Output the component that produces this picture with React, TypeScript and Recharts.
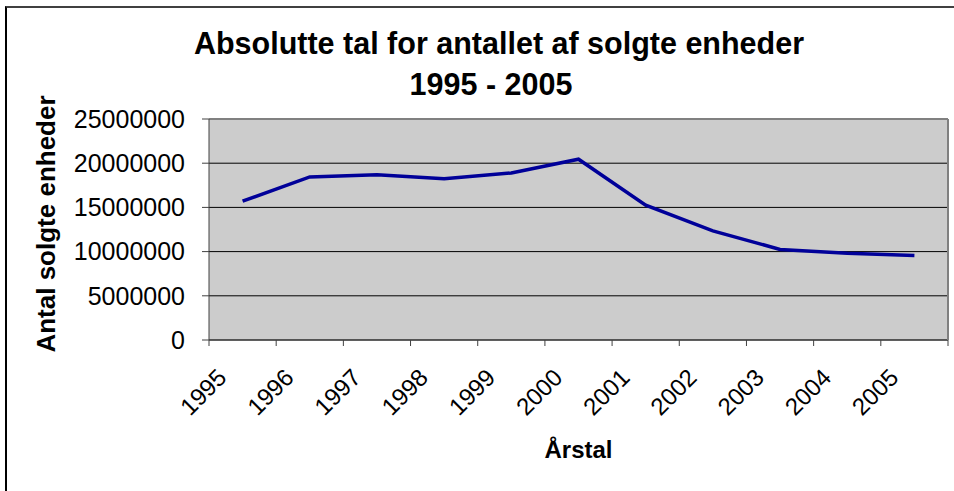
import { LineChart, Line, XAxis, YAxis, CartesianGrid, ReferenceLine } from 'recharts';

// Data
const years = ['1995', '1996', '1997', '1998', '1999', '2000', '2001', '2002', '2003', '2004', '2005'];
const sales = [15700000, 18450000, 18700000, 18250000, 18900000, 20450000, 15250000, 12350000, 10250000, 9800000, 9550000];
const yTicks = [0, 5000000, 10000000, 15000000, 20000000, 25000000];
const boundaryTicks = [0, 1, 2, 3, 4, 5, 6, 7, 8, 9, 10, 11];

// each year sits in the middle of its category slot
const chartData = years.map((year, i) => ({ pos: i + 0.5, year, value: sales[i] }));

const FONT = '"Liberation Sans", Arial, sans-serif';

function YearTick(props: any) {
    const { x, y, payload } = props;
    const idx = payload.value;
    if (idx >= years.length) return null;
    // label belongs to the slot to the right of this boundary tick
    const ax = x + 19;
    const ay = y + 31;
    return (
        <text x={ax} y={ay} transform={`rotate(-45, ${ax}, ${ay})`} textAnchor="end"
            fontFamily={FONT} fontSize={24} fill="#000">
            {years[idx]}
        </text>
    );
}

export default function App() {
    return (
        <div style={{ position: 'absolute', left: 0, top: 0, width: 954, height: 491, background: '#fff', overflow: 'hidden' }}>
            {/* frame around the chart */}
            <div style={{ position: 'absolute', left: 5, top: 6, width: 950, height: 500, borderTop: '2px solid #404040', borderLeft: '2px solid #000' }} />

            <LineChart width={954} height={491} data={chartData} margin={{ top: 119, right: 0, left: 0, bottom: 0 }}>
                <CartesianGrid vertical={false} stroke="#000" fill="#CCCCCC" fillOpacity={1} />
                <XAxis
                    dataKey="pos"
                    type="number"
                    domain={[0, 11]}
                    ticks={boundaryTicks}
                    interval={0}
                    height={151}
                    tickSize={6}
                    stroke="#404040"
                    tick={<YearTick />}
                    label={{ value: 'Årstal', position: 'insideBottom', offset: 33, fontFamily: FONT, fontSize: 24, fontWeight: 'bold', fill: '#000' }}
                />
                <YAxis
                    domain={[0, 25000000]}
                    ticks={yTicks}
                    interval={0}
                    width={209}
                    tickSize={7}
                    tickMargin={17}
                    stroke="#404040"
                    tick={{ fontFamily: FONT, fontSize: 25, fill: '#000' }}
                    label={{
                        content: () => (
                            <text x={55} y={224} transform="rotate(-90, 55, 224)" textAnchor="middle"
                                fontFamily={FONT} fontSize={26} fontWeight="bold" fill="#000">
                                Antal solgte enheder
                            </text>
                        ),
                    }}
                />
                <YAxis yAxisId="r" orientation="right" width={6} domain={[0, 25000000]} tick={false} tickLine={false} axisLine={{ stroke: '#808080', strokeWidth: 2 }} />
                <ReferenceLine y={25000000} stroke="#808080" strokeWidth={2} />
                <Line type="linear" dataKey="value" stroke="#000099" strokeWidth={3.5} dot={false} isAnimationActive={false} />
            </LineChart>

            <svg width={954} height={110} style={{ position: 'absolute', left: 0, top: 0 }}>
                <text x={499} y={54} textAnchor="middle" fontFamily={FONT} fontSize={30.5} fontWeight="bold" fill="#000">
                    Absolutte tal for antallet af solgte enheder
                </text>
                <text x={491} y={95} textAnchor="middle" fontFamily={FONT} fontSize={30.5} fontWeight="bold" fill="#000">
                    1995 - 2005
                </text>
            </svg>
        </div>
    );
}
